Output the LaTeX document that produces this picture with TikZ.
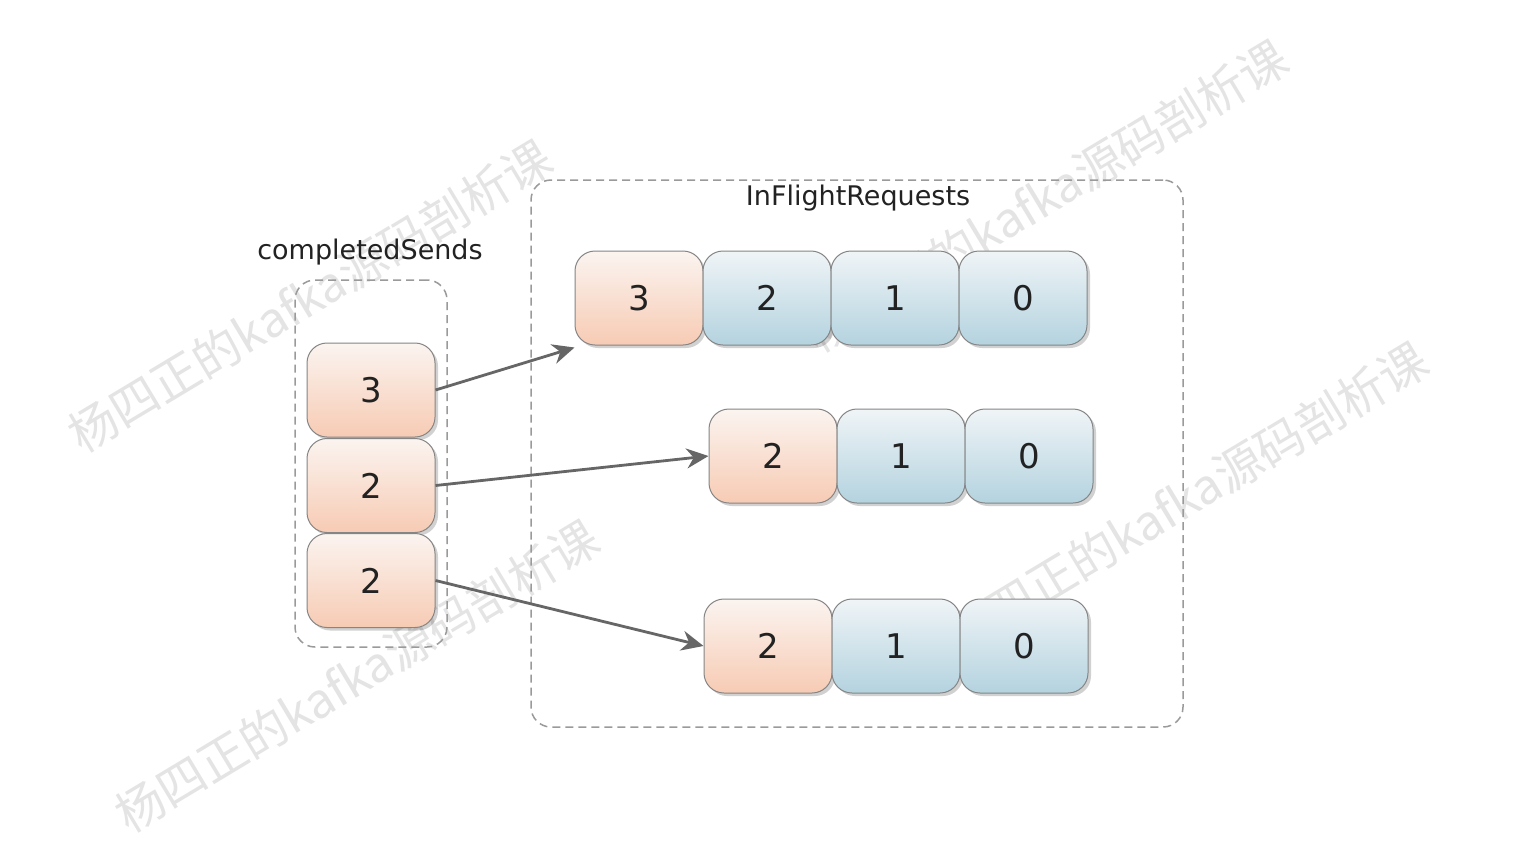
\documentclass[tikz,border=0pt]{standalone}
\usepackage{fontspec}
\setmainfont{DejaVu Sans}
\newfontfamily\cjk{Noto Sans CJK SC}
\usetikzlibrary{arrows.meta,shadows}
\definecolor{orgTop}{HTML}{FBF4F0}
\definecolor{orgBot}{HTML}{F7CBB4}
\definecolor{bluTop}{HTML}{F0F4F7}
\definecolor{bluBot}{HTML}{B3D3DF}
\definecolor{edge}{HTML}{858585}
\definecolor{dashc}{HTML}{9A9A9A}
\definecolor{arrc}{HTML}{666666}
\definecolor{wmc}{HTML}{E4E4E4}
\definecolor{txt}{HTML}{222222}
\tikzset{
  cell/.style={draw=edge, line width=1pt, rounded corners=20pt,
    minimum width=128pt, minimum height=94pt, inner sep=0pt,
    font=\fontsize{34}{40}\selectfont, text=txt,
    drop shadow={shadow xshift=3pt, shadow yshift=-3pt, opacity=0.18, fill=black}},
  orangecell/.style={cell, top color=orgTop, bottom color=orgBot},
  bluecell/.style={cell, top color=bluTop, bottom color=bluBot},
  container/.style={draw=dashc, line width=1.5pt, dash pattern=on 8pt off 5pt,
    rounded corners=20pt, inner sep=0pt},
  lbl/.style={font=\fontsize{27}{31}\selectfont, text=txt, inner sep=0pt},
  arr/.style={draw=arrc, line width=2.8pt, -{Stealth[length=22pt,width=20pt]}},
  wm/.style={font=\cjk\fontsize{48}{52}\selectfont, text=wmc, inner sep=0pt}
}
\begin{document}
\begin{tikzpicture}[x=1pt,y=-1pt]
\useasboundingbox (0,0) rectangle (1522,860);
\fill[white] (0,0) rectangle (1522,860);
% watermarks
\node[wm, rotate=31] (wm1) at (310,296) {杨四正的kafka源码剖析课};
\node[wm, rotate=31] (wm2) at (357,676) {杨四正的kafka源码剖析课};
\node[wm, rotate=31] (wm3) at (1046,196) {杨四正的kafka源码剖析课};
\node[wm, rotate=31] (wm4) at (1186,498) {杨四正的kafka源码剖析课};
% containers
\node[container, minimum width=152pt, minimum height=367pt] (cs) at (371,463.5) {};
\node[container, minimum width=652pt, minimum height=547pt] (ifr) at (857,453.5) {};
\node[lbl] (cslbl) at (370,252) {completedSends};
\node[lbl] (ifrlbl) at (858,198) {InFlightRequests};
% completedSends cells
\node[orangecell] (c3) at (371,390) {3};
\node[orangecell] (c2) at (371,485.5) {2};
\node[orangecell] (c1) at (371,580.5) {2};
% row 1
\node[orangecell] (r1a) at (639,298) {3};
\node[bluecell] (r1b) at (767,298) {2};
\node[bluecell] (r1c) at (895,298) {1};
\node[bluecell] (r1d) at (1023,298) {0};
% row 2
\node[orangecell] (r2a) at (773,456) {2};
\node[bluecell] (r2b) at (901,456) {1};
\node[bluecell] (r2c) at (1029,456) {0};
% row 3
\node[orangecell] (r3a) at (768,646) {2};
\node[bluecell] (r3b) at (896,646) {1};
\node[bluecell] (r3c) at (1024,646) {0};
% arrows
\draw[arr] (c3.east) -- ([yshift=-2pt]r1a.south west);
\draw[arr] (c2.east) -- (r2a.west);
\draw[arr] (c1.east) -- (r3a.west);
\end{tikzpicture}
\end{document}
